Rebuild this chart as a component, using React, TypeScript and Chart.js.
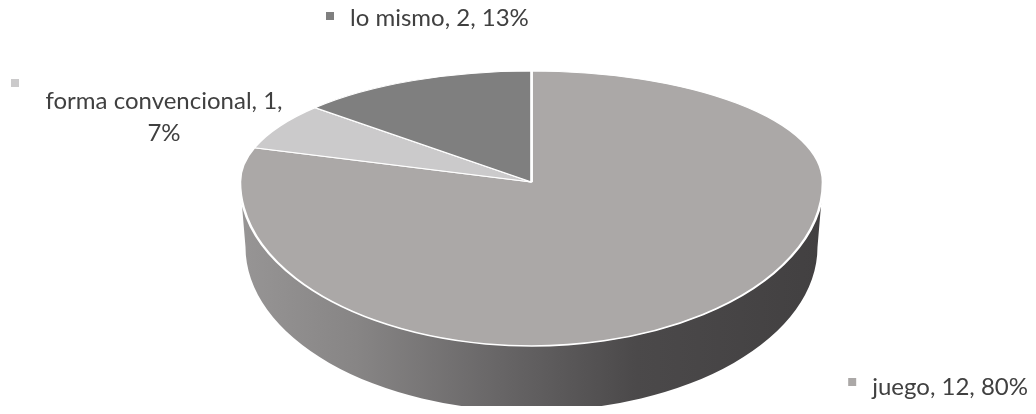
import { useEffect, useRef } from 'react';
import { Chart, registerables } from 'chart.js';

Chart.register(...registerables);

// ---- data ----
const categories = ['juego', 'forma convencional', 'lo mismo'];
const values = [12, 1, 2];
const sliceColors = ['#ABA8A7', '#CBCACB', '#7F7F7F'];

// ---- layout / style (canvas pixels) ----
const W = 1020;
const H = 398;
const TX = 523.5; // apex x
const TY = 174; // apex y
const RX = 291.5;
const RY_TOP = 111;
const RY_BOT = 164;
const DEPTH = 65;
const RX_BASE = 286;
const RY_BASE = 164;
const FONT = '24px Lato, "Noto Sans", sans-serif';
const TEXT_COLOR = '#404040';
const KEY = 8;
const KEY_GAP = 16;

type LabelPos = { keyX?: number; keyY: number; x: number; y: number; align: CanvasTextAlign; wrap: number };
const labelLayout: LabelPos[] = [
  { keyY: 370, x: 1020, y: 387, align: 'right', wrap: 400 },
  { keyX: 3, keyY: 71, x: 156, y: 101, align: 'center', wrap: 265 },
  { keyY: 4, x: 342, y: 18, align: 'left', wrap: 400 },
];
const LINE_H = 32;

function frontRanges(s: number, e: number): [number, number][] {
  const out: [number, number][] = [];
  for (let k = -2; k <= 2; k++) {
    const a = Math.max(s + 2 * Math.PI * k, 0);
    const b = Math.min(e + 2 * Math.PI * k, Math.PI);
    if (b > a) out.push([a, b]);
  }
  return out;
}

const pie3d = {
  id: 'pie3d',
  beforeDatasetsDraw(chart: any) {
    const meta = chart.getDatasetMeta(0);
    const arcs = meta.data as any[];
    if (!arcs.length) return false;
    const ctx: CanvasRenderingContext2D = chart.ctx;
    const p0 = arcs[0].getProps(['x', 'y', 'outerRadius'], true);
    const ox = p0.x, oy = p0.y, r = p0.outerRadius;

    // side wall (front half) for every slice that faces the viewer
    const grad = ctx.createLinearGradient(TX - RX, 0, TX + RX, 0);
    grad.addColorStop(0, '#979595');
    grad.addColorStop(0.2, '#878585');
    grad.addColorStop(0.45, '#676566');
    grad.addColorStop(0.68, '#4b494a');
    grad.addColorStop(1, '#424041');
    arcs.forEach((arc) => {
      const p = arc.getProps(['startAngle', 'endAngle'], true);
      frontRanges(p.startAngle, p.endAngle).forEach(([a, b]) => {
        ctx.save();
        ctx.beginPath();
        ctx.ellipse(TX, TY, RX, RY_BOT, 0, a, b, false);
        ctx.ellipse(TX, TY + DEPTH, RX_BASE, RY_BASE, 0, b, a, true);
        ctx.closePath();
        ctx.fillStyle = grad;
        ctx.fill();
        ctx.restore();
      });
    });

    // top face: lower half then upper half (perspective-like)
    const halves = [
      { y0: TY - 0.5, y1: H, ry: RY_BOT },
      { y0: 0, y1: TY, ry: RY_TOP },
    ];
    halves.forEach((h) => {
      ctx.save();
      ctx.beginPath();
      ctx.rect(0, h.y0, W, h.y1 - h.y0);
      ctx.clip();
      ctx.translate(TX, TY);
      ctx.scale(RX / r, h.ry / r);
      ctx.translate(-ox, -oy);
      arcs.forEach((arc) => arc.draw(ctx));
      ctx.restore();
    });
    return false;
  },
  afterDraw(chart: any) {
    const ctx: CanvasRenderingContext2D = chart.ctx;
    const labels = chart.data.labels as string[];
    const data = chart.data.datasets[0].data as number[];
    const colors = chart.data.datasets[0].backgroundColor as string[];
    const total = data.reduce((s, v) => s + v, 0);
    ctx.save();
    ctx.font = FONT;
    ctx.textBaseline = 'alphabetic';
    labels.forEach((lab, i) => {
      const L = labelLayout[i];
      const pct = Math.round((data[i] / total) * 100);
      const words = `${lab}, ${data[i]}, ${pct}%`.split(' ');
      const lines: string[] = [];
      let cur = '';
      words.forEach((w) => {
        const t = cur ? cur + ' ' + w : w;
        if (cur && ctx.measureText(t).width > L.wrap) {
          lines.push(cur);
          cur = w;
        } else cur = t;
      });
      if (cur) lines.push(cur);
      let keyX = L.keyX;
      if (keyX === undefined) {
        const w0 = ctx.measureText(lines[0]).width;
        const left = L.align === 'right' ? L.x - w0 : L.align === 'center' ? L.x - w0 / 2 : L.x;
        keyX = left - KEY_GAP - KEY;
      }
      ctx.fillStyle = colors[i];
      ctx.fillRect(keyX, L.keyY, KEY, KEY);
      ctx.fillStyle = TEXT_COLOR;
      ctx.textAlign = L.align;
      lines.forEach((ln, j) => ctx.fillText(ln, L.x, L.y + j * LINE_H));
    });
    ctx.restore();
  },
};

export default function App() {
  const ref = useRef<HTMLCanvasElement>(null);
  useEffect(() => {
    if (!ref.current) return;
    const chart = new Chart(ref.current, {
      type: 'pie',
      data: {
        labels: categories,
        datasets: [
          {
            data: values,
            backgroundColor: sliceColors,
            borderColor: '#FFFFFF',
            borderWidth: 1.8,
          },
        ],
      },
      options: {
        responsive: true,
        maintainAspectRatio: false,
        animation: false,
        events: [],
        layout: { padding: 0 },
        plugins: {
          legend: { display: false },
          tooltip: { enabled: false },
        },
      },
      plugins: [pie3d],
    });
    return () => chart.destroy();
  }, []);
  return (
    <div style={{ position: 'relative', width: W, height: H }}>
      <canvas ref={ref} />
    </div>
  );
}
